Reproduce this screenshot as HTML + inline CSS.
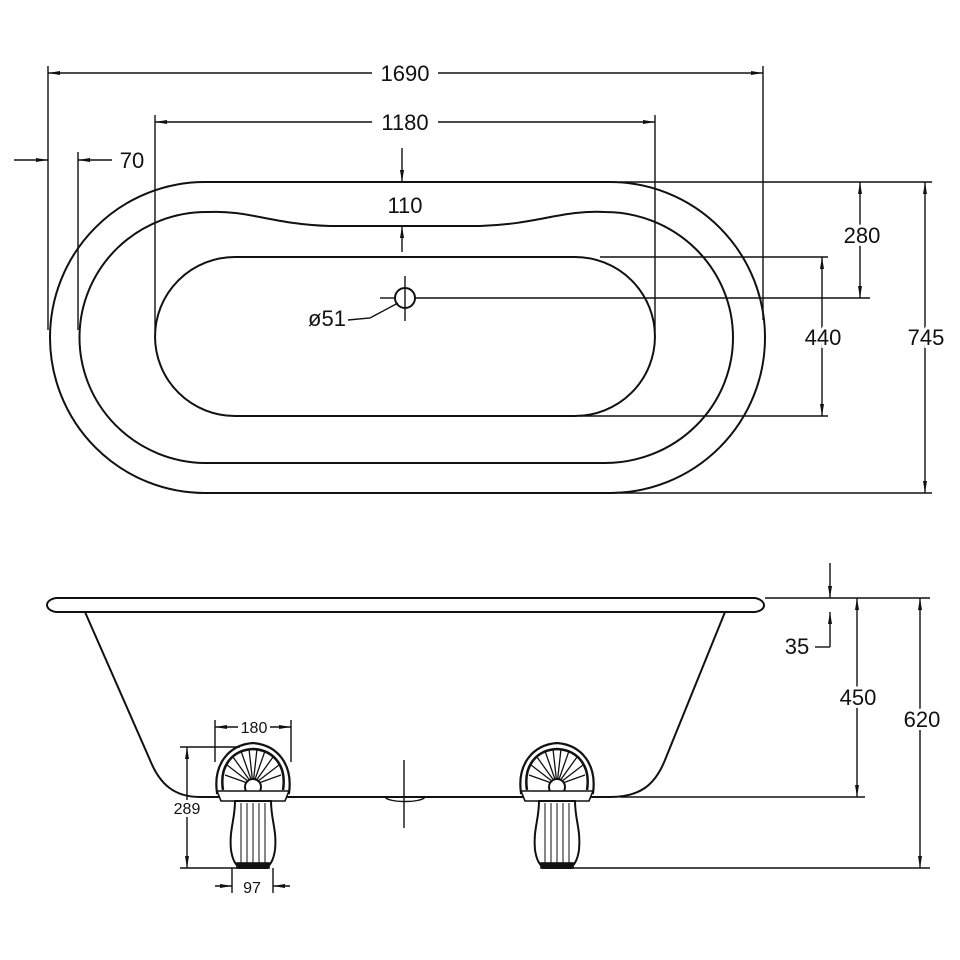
<!DOCTYPE html>
<html><head><meta charset="utf-8"><style>body{margin:0;background:#fff}svg{display:block}text{font-family:"Liberation Sans",sans-serif;fill:#111;stroke:#fff;stroke-width:6px;paint-order:stroke}</style></head><body>
<svg width="960" height="960" viewBox="0 0 960 960" xmlns="http://www.w3.org/2000/svg">
<defs>
<marker id="a" viewBox="0 0 12 6" refX="12" refY="3" markerWidth="12" markerHeight="6" orient="auto-start-reverse" markerUnits="userSpaceOnUse"><path d="M0,1 L12,3 L0,5 Z" fill="#111"/></marker>
<g id="foot" stroke="#111" fill="none" stroke-width="1.6">
<path d="M-36,48 C-40,20 -25,0 0,-2 C25,0 40,20 36,48 Z" fill="#fff" stroke-width="2.2"/>
<path d="M-30,45 C-34,20 -20,5 0,4 C20,5 34,20 30,45" stroke-width="2.5"/>
<g stroke-width="1.3">
<line x1="0" y1="40" x2="-28" y2="30"/><line x1="0" y1="40" x2="-26" y2="20"/><line x1="0" y1="40" x2="-20" y2="12"/><line x1="0" y1="40" x2="-12" y2="6"/><line x1="0" y1="40" x2="-4" y2="4"/><line x1="0" y1="40" x2="4" y2="4"/><line x1="0" y1="40" x2="12" y2="6"/><line x1="0" y1="40" x2="20" y2="12"/><line x1="0" y1="40" x2="26" y2="20"/><line x1="0" y1="40" x2="28" y2="30"/>
</g>
<circle cx="0" cy="42" r="8" fill="#fff" stroke-width="2"/>
<path d="M-36,46 L36,46 L32,56 L-32,56 Z" fill="#fff"/>
<path d="M-18,56 C-18,75 -24,85 -22,105 C-20,118 -16,120 -14,123 L14,123 C16,120 20,118 22,105 C24,85 18,75 18,56 Z" fill="#fff" stroke-width="2"/>
<g stroke-width="1"><line x1="-12" y1="58" x2="-12" y2="120"/><line x1="-6" y1="58" x2="-6" y2="120"/><line x1="0" y1="58" x2="0" y2="120"/><line x1="6" y1="58" x2="6" y2="120"/><line x1="12" y1="58" x2="12" y2="120"/></g>
<rect x="-16" y="118" width="32" height="5" fill="#111"/>
</g>
</defs>
<g stroke="#111" fill="none" stroke-width="2">
<path d="M205,182 L610,182 A155,155.5 0 0 1 610,493 L205,493 A155,155.5 0 0 1 205,182 Z"/>
<path d="M208,212 C250,210 270,224 330,226 L480,226 C540,224 560,210 605,212 A128,125.5 0 0 1 605,463 L205,463 A127,125.5 0 0 1 208,212 Z"/>
<path d="M235,257 L575,257 A80,79.5 0 0 1 575,416 L235,416 A80,79.5 0 0 1 235,257 Z"/>
<circle cx="405" cy="298" r="10"/>
</g>
<g stroke="#111" fill="none" stroke-width="1.4">
<line x1="405" y1="276" x2="405" y2="321"/><line x1="380" y1="298" x2="395" y2="298"/>
<line x1="415" y1="298" x2="870" y2="298"/>
<line x1="620" y1="182" x2="932" y2="182"/><line x1="620" y1="493" x2="932" y2="493"/>
<line x1="600" y1="257" x2="828" y2="257"/><line x1="580" y1="416" x2="828" y2="416"/>
<line x1="860" y1="182" x2="860" y2="298" marker-start="url(#a)" marker-end="url(#a)"/>
<line x1="822" y1="257" x2="822" y2="416" marker-start="url(#a)" marker-end="url(#a)"/>
<line x1="925" y1="182" x2="925" y2="493" marker-start="url(#a)" marker-end="url(#a)"/>
<line x1="48" y1="66" x2="48" y2="330"/><line x1="763" y1="66" x2="763" y2="320"/>
<line x1="155" y1="115" x2="155" y2="330"/><line x1="655" y1="115" x2="655" y2="330"/>
<line x1="78" y1="152" x2="78" y2="330"/>
<line x1="48" y1="73" x2="372" y2="73" marker-start="url(#a)"/><line x1="438" y1="73" x2="763" y2="73" marker-end="url(#a)"/>
<line x1="155" y1="122" x2="372" y2="122" marker-start="url(#a)"/><line x1="438" y1="122" x2="655" y2="122" marker-end="url(#a)"/>
<line x1="14" y1="160" x2="48" y2="160" marker-end="url(#a)"/>
<line x1="112" y1="160" x2="78" y2="160" marker-end="url(#a)"/>
<line x1="402" y1="148" x2="402" y2="182" marker-end="url(#a)"/>
<line x1="402" y1="252" x2="402" y2="226" marker-end="url(#a)"/>
<path d="M348,320 L370,318 L398,303"/>
</g>
<g font-size="22" text-anchor="middle">
<text x="405" y="81">1690</text><text x="405" y="130">1180</text>
<text x="132" y="168">70</text><text x="405" y="213">110</text>
<text x="862" y="243">280</text><text x="823" y="345">440</text><text x="926" y="345">745</text>
<text x="327" y="326">ø51</text>
</g>
<g stroke="#111" fill="none" stroke-width="2">
<path d="M56,598 L755,598 C766,600 768,610 755,612 L56,612 C44,610 44,600 56,598 Z"/>
<path d="M85,612 L150,760 C160,785 175,797 200,797 L610,797 C640,797 655,785 665,760 L725,612"/>
<path d="M385,797 C388,803 422,803 425,797" stroke-width="1.4"/>
</g>
<use href="#foot" x="253" y="745"/>
<use href="#foot" x="557" y="745"/>
<g stroke="#111" fill="none" stroke-width="1.4">
<line x1="404" y1="760" x2="404" y2="828"/>
<line x1="765" y1="598" x2="930" y2="598"/>
<line x1="620" y1="797" x2="865" y2="797"/><line x1="570" y1="868" x2="930" y2="868"/>
<line x1="830" y1="563" x2="830" y2="598" marker-end="url(#a)"/>
<line x1="830" y1="647" x2="830" y2="612" marker-end="url(#a)"/><line x1="815" y1="647" x2="830" y2="647"/>
<line x1="857" y1="598" x2="857" y2="797" marker-start="url(#a)" marker-end="url(#a)"/>
<line x1="920" y1="598" x2="920" y2="868" marker-start="url(#a)" marker-end="url(#a)"/>
<line x1="215" y1="720" x2="215" y2="762"/><line x1="291" y1="720" x2="291" y2="762"/>
<line x1="215" y1="727" x2="238" y2="727" marker-start="url(#a)"/><line x1="270" y1="727" x2="291" y2="727" marker-end="url(#a)"/>
<line x1="180" y1="747" x2="240" y2="747"/><line x1="180" y1="868" x2="240" y2="868"/>
<line x1="187" y1="747" x2="187" y2="868" marker-start="url(#a)" marker-end="url(#a)"/>
<line x1="232" y1="868" x2="232" y2="893"/><line x1="273" y1="868" x2="273" y2="893"/>
<line x1="215" y1="886" x2="232" y2="886" marker-end="url(#a)"/><line x1="290" y1="886" x2="273" y2="886" marker-end="url(#a)"/>
</g>
<g font-size="22" text-anchor="middle">
<text x="797" y="654">35</text><text x="858" y="705">450</text><text x="922" y="727">620</text>
</g>
<g font-size="16" text-anchor="middle">
<text x="254" y="733">180</text><text x="187" y="814">289</text><text x="252" y="893">97</text>
</g>
</svg>
</body></html>
